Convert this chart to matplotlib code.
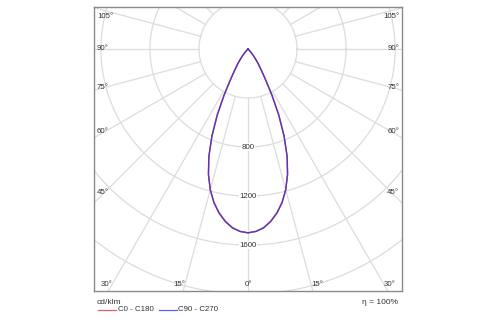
import numpy as np
import matplotlib
matplotlib.use("Agg")
import matplotlib.pyplot as plt

plt.rcParams["font.family"] = ["Liberation Sans", "DejaVu Sans"]

# luminous intensity distribution (cd/klm), gamma angle from nadir
gamma = [0, 2.5, 5, 7.5, 10, 12.5, 15, 17.5, 20, 22.5, 25, 27.5, 30,
         32.5, 35, 37.5, 40, 42.5, 45, 47.5, 90]
c0_c180 = [1500, 1490, 1465, 1420, 1360, 1285, 1190, 1075, 935, 770, 595, 420, 280,
           195, 140, 95, 55, 25, 8, 0, 0]
c90_c270 = [1500, 1490, 1463, 1418, 1357, 1282, 1188, 1072, 932, 768, 592, 418, 278,
            195, 140, 95, 55, 25, 8, 0, 0]

rings = [400, 800, 1200, 1600, 2000, 2400, 2800]
ring_labels = [800, 1200, 1600]
side_angles = [45, 60, 75, 90, 105]
bottom_angles = [-30, -15, 0, 15, 30]
efficiency = "100%"

px = 8.16  # cd/klm per pixel
fig = plt.figure(figsize=(5, 3.25), dpi=100)
ax = fig.add_axes([94 / 500, 34 / 325, 308 / 500, 284 / 325])
xmax = 154 * px
ytop = 42 * px
ybot = -242 * px
ax.set_xlim(-xmax, xmax)
ax.set_ylim(ybot, ytop)
ax.set_xticks([])
ax.set_yticks([])
for s in ax.spines.values():
    s.set_color("#8a8a8a")
    s.set_linewidth(1)

grid_c = "#dcdcdc"
fs = 5.7
t = np.linspace(0, 2 * np.pi, 400)
for r in rings:
    ax.plot(r * np.cos(t), r * np.sin(t), color=grid_c, lw=0.9, zorder=1)
for a in range(0, 360, 15):
    ar = np.radians(a)
    ax.plot([rings[0] * np.sin(ar), 4000 * np.sin(ar)],
            [-rings[0] * np.cos(ar), -4000 * np.cos(ar)],
            color=grid_c, lw=0.9, zorder=1)

for v in ring_labels:
    ax.text(0, -v, str(v), ha="center", va="center", fontsize=fs, color="#333333",
            bbox=dict(boxstyle="square,pad=0.1", fc="white", ec="none"), zorder=2)

# side angle labels
d = 143 * px
for a in side_angles:
    y = -d / np.tan(np.radians(a))
    y = min(y, ytop - 10 * px)
    for sgn in (-1, 1):
        ax.text(sgn * (xmax - 3 * px), y, f"{a}°", ha="left" if sgn < 0 else "right",
                va="center", fontsize=fs, color="#333333", zorder=2)

# bottom angle labels
yb = ybot + 7 * px
for a in bottom_angles:
    x = -yb * np.tan(np.radians(a))
    x += np.sign(a) * 6 * px
    ax.text(x, yb, f"{abs(a)}°", ha="center", va="center", fontsize=fs,
            color="#333333", zorder=2)

# curves
g = np.radians(np.array(gamma))
for vals, col, al in [(c0_c180, "#e03030", 1.0), (c90_c270, "#3a3ad8", 0.85)]:
    v = np.array(vals)
    th = np.concatenate([-g[::-1], g[1:]])
    rr = np.concatenate([v[::-1], v[1:]])
    ax.plot(rr * np.sin(th), -rr * np.cos(th), color=col, lw=1.0, alpha=al, zorder=3,
            solid_joinstyle="round")

# footer
fig.text(97 / 500, 1 - 302 / 325, "cd/klm", fontsize=6.0, color="#333333", va="center")
fig.text(398 / 500, 1 - 302 / 325, "η = " + efficiency, fontsize=6.0, color="#333333",
         va="center", ha="right")
yl = 1 - 309.5 / 325
fig.add_artist(plt.Line2D([98 / 500, 116 / 500], [yl, yl], color="#e06060", lw=0.9))
fig.text(118 / 500, yl, "C0 - C180", fontsize=fs, color="#333333", va="center")
fig.add_artist(plt.Line2D([159 / 500, 177 / 500], [yl, yl], color="#6060e0", lw=0.9))
fig.text(178 / 500, yl, "C90 - C270", fontsize=fs, color="#333333", va="center")

fig.savefig("out.png", dpi=100)
